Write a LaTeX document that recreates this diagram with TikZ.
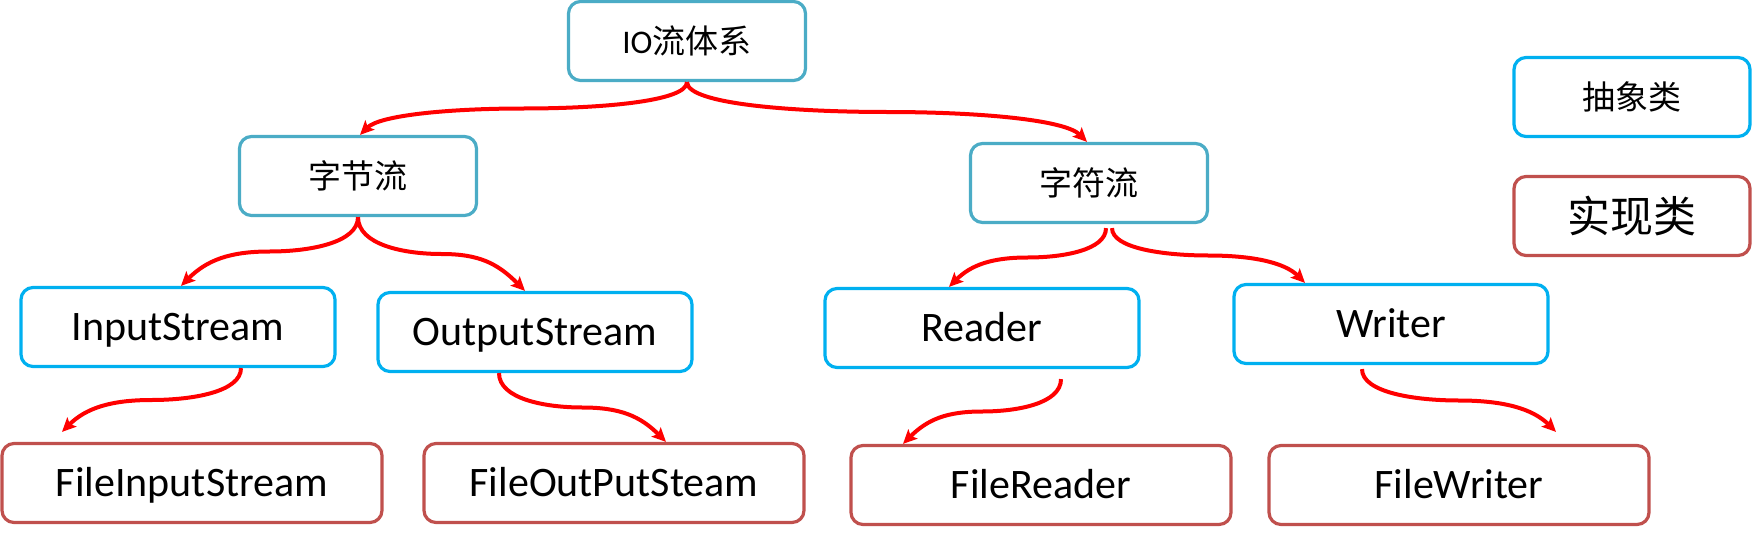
\documentclass[tikz,border=0pt]{standalone}
\usepackage{fontspec}
\setmainfont{Carlito}
\newfontfamily\cjk{Noto Sans CJK SC}
\usetikzlibrary{arrows.meta,calc}
\definecolor{tealbox}{HTML}{4BACC6}
\definecolor{bluebox}{HTML}{00B0F0}
\definecolor{redbox}{HTML}{C0504D}
\definecolor{arrred}{HTML}{FF0000}
\begin{document}
\begin{tikzpicture}[x=1pt,y=-1pt,
  box/.style={draw, fill=white, rounded corners=12pt, line width=3.2pt, inner sep=0pt},
  topbox/.style={box, draw=tealbox, minimum width=237pt, minimum height=79pt},
  absbox/.style={box, draw=bluebox, minimum width=314pt, minimum height=79pt},
  implbox/.style={box, draw=redbox, minimum width=380pt, minimum height=79pt},
  lat/.style={font=\fontsize{42}{42}\selectfont, text height=27pt, text depth=0pt},
  cjks/.style={font=\fontsize{33}{33}\selectfont\cjk, text height=29pt, text depth=4pt},
  cjkl/.style={font=\fontsize{43}{43}\selectfont\cjk, text height=38pt, text depth=5pt},
  arr/.style={draw=arrred, line width=4pt, -{Stealth[length=14pt,width=13pt,inset=3pt]}},
  scurve/.style={to path={let \p1=(\tikztostart), \p2=(\tikztotarget),
      \n1={(\x2-\x1)/2}, \n2={(\y1-\y2)/2}, \n3={sign(\x2-\x1)} in
      .. controls (\x1, {\y1-0.75*\n2*1pt}) and ({\x1+0.55*\n1*1pt}, {\y1-\n2*1pt})
      .. ({\x1+\n1*1pt}, {\y1-\n2*1pt})
      .. controls ({\x1+1.45*\n1*1pt}, {\y1-\n2*1pt}) and ({\x2-0.75*\n3*\n2*1pt}, {\y2+0.75*\n2*1pt})
      .. (\tikztotarget)}}
]
\useasboundingbox (0,0) rectangle (1752,543);

\node[topbox, font=\fontsize{33}{33}\selectfont, text height=29pt, text depth=4pt] (io) at (687,41) {IO{\cjk 流体系}};
\node[topbox, cjks] (byte) at (358,176) {字节流};
\node[topbox, cjks] (char) at (1089,183) {字符流};

\node[box, draw=bluebox, minimum width=236pt, minimum height=79pt, cjks] (abs) at (1632,97) {抽象类};
\node[box, draw=redbox, minimum width=236pt, minimum height=79pt, cjkl] (impl) at (1632,216) {实现类};

\node[absbox, lat] (in) at (178,327) {InputStream};
\node[absbox, lat] (out) at (535,332) {OutputStream};
\node[absbox, lat] (rd) at (982,328) {Reader};
\node[absbox, lat] (wr) at (1391,324) {Writer};

\node[implbox, lat] (fin) at (192,483) {FileInputStream};
\node[implbox, lat] (fout) at (614,483) {FileOutPutSteam};
\node[implbox, lat] (frd) at (1041,485) {FileReader};
\node[implbox, lat] (fwr) at (1459,485) {FileWriter};

\draw[arr] (io.south) to[scurve] ([xshift=2pt]byte.north);
\draw[arr] (io.south) to[scurve] ([xshift=-2pt]char.north);
\draw[arr] (byte.south) to[scurve] ([xshift=3pt]in.north);
\draw[arr] (byte.south) to[scurve] ([xshift=-10pt]out.north);
\draw[arr] ([xshift=63pt]in.south) to[scurve] ([xshift=-130pt,yshift=10pt]fin.north);
\draw[arr] ([xshift=-36pt]out.south) to[scurve] ([xshift=52pt]fout.north);
\draw[arr] ([xshift=17pt,yshift=-4pt]char.south) to[scurve] ([xshift=-33pt]rd.north);
\draw[arr] ([xshift=23pt,yshift=-4pt]char.south) to[scurve] ([xshift=-86pt]wr.north);
\draw[arr] ([xshift=79pt,yshift=-10pt]rd.south) to[scurve] ([xshift=-138pt]frd.north);
\draw[arr] ([xshift=-29pt,yshift=-4pt]wr.south) to[scurve] ([xshift=97pt,yshift=12pt]fwr.north);
\end{tikzpicture}
\end{document}
